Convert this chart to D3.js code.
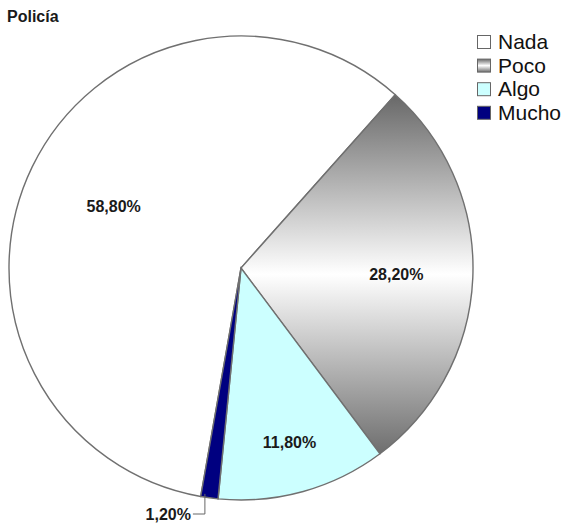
<!DOCTYPE html>
<html><head><meta charset="utf-8">
<script src="https://cdn.jsdelivr.net/npm/d3@7"></script>
<style>body{margin:0;background:#fff}svg{display:block}</style>
</head><body>
<svg id="chart" width="564" height="524"></svg>
<script>
const title = "Policía";
const categories = ["Nada", "Poco", "Algo", "Mucho"];
const values = [58.8, 28.2, 11.8, 1.2];
const labels = ["58,80%", "28,20%", "11,80%", "1,20%"];

// styling
const fills = ["#ffffff", "url(#pocoGrad)", "#ccffff", "#000080"];
const labelRadiusFactor = [0.61, 0.67, 0.78, null];

const svg = d3.select("#chart");
const defs = svg.append("defs");
const grad = defs.append("linearGradient").attr("id", "pocoGrad")
  .attr("x1", 0).attr("y1", 0).attr("x2", 0).attr("y2", 1);
grad.append("stop").attr("offset", "0%").attr("stop-color", "#686868");
grad.append("stop").attr("offset", "50%").attr("stop-color", "#ffffff");
grad.append("stop").attr("offset", "100%").attr("stop-color", "#6e6e6e");

const cx = 241, cy = 268, R = 232;
const startA = -170 * Math.PI / 180;

const pie = d3.pie().sort(null).value(d => d)
  .startAngle(startA).endAngle(startA + 2 * Math.PI);
const arcs = pie(values);
const arc = d3.arc().innerRadius(0).outerRadius(R);

const g = svg.append("g").attr("transform", `translate(${cx},${cy})`);
g.selectAll("path.slice").data(arcs).enter().append("path")
  .attr("class", "slice")
  .attr("d", arc)
  .attr("fill", (d, i) => fills[i])
  .attr("stroke", "#707070")
  .attr("stroke-width", 1.4);

const font = "'Liberation Sans', Arial, sans-serif";

arcs.forEach((d, i) => {
  const mid = (d.startAngle + d.endAngle) / 2;
  if (labelRadiusFactor[i] != null) {
    const r = R * labelRadiusFactor[i];
    g.append("text")
      .attr("x", r * Math.sin(mid))
      .attr("y", -r * Math.cos(mid))
      .attr("dy", "0.36em")
      .attr("text-anchor", "middle")
      .attr("font-family", font).attr("font-weight", "bold").attr("font-size", 16)
      .attr("fill", "#1a1a1a")
      .text(labels[i]);
  } else {
    const px = (R - 4) * Math.sin(mid) - 5, py = -(R - 4) * Math.cos(mid);
    const ly = 246;
    g.append("path")
      .attr("d", `M${px},${py}V${ly}H${px - 12}`)
      .attr("fill", "none").attr("stroke", "#666").attr("stroke-width", 1);
    g.append("text")
      .attr("x", px - 14).attr("y", ly).attr("dy", "0.36em")
      .attr("text-anchor", "end")
      .attr("font-family", font).attr("font-weight", "bold").attr("font-size", 16)
      .attr("fill", "#1a1a1a")
      .text(labels[i]);
  }
});

svg.append("text").attr("x", 7).attr("y", 22)
  .attr("font-family", font).attr("font-weight", "bold").attr("font-size", 16)
  .attr("fill", "#1a1a1a").text(title);

const leg = svg.append("g").attr("transform", "translate(477,49)");
const rowH = 23.6;
categories.forEach((c, i) => {
  const row = leg.append("g").attr("transform", `translate(0,${i * rowH})`);
  row.append("rect").attr("x", 0.5).attr("y", -13.5).attr("width", 13).attr("height", 13)
    .attr("fill", fills[i])
    .attr("stroke", "#666").attr("stroke-width", 1);
  row.append("text").attr("x", 21).attr("y", 0)
    .attr("font-family", font).attr("font-size", 21).attr("fill", "#111")
    .text(c);
});
</script>
</body></html>
